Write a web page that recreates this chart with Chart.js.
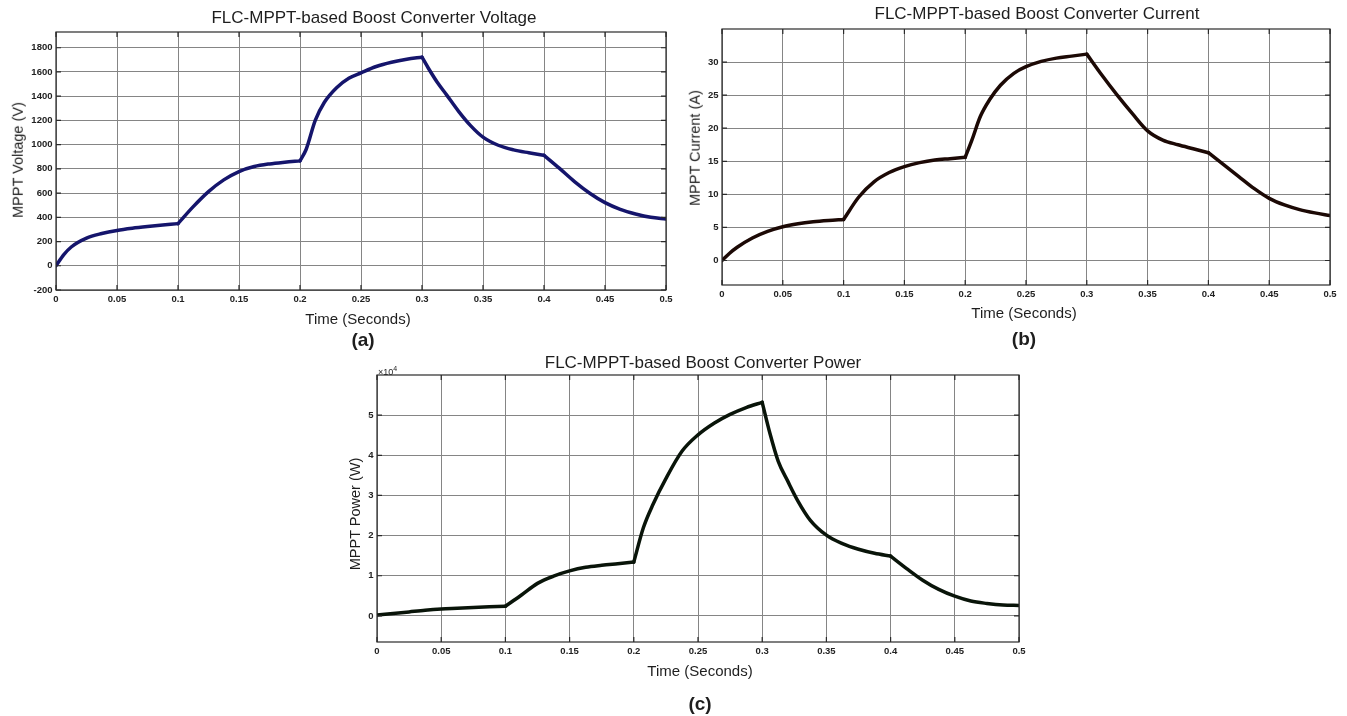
<!DOCTYPE html>
<html lang="en">
<head>
  <meta charset="UTF-8">
  <title>FLC-MPPT-based Boost Converter</title>
  <script src="https://cdn.jsdelivr.net/npm/chart.js"></script>
  <style>
    body { margin: 0; background: #fff; width: 1347px; height: 716px; overflow: hidden; position: relative;
           font-family: "Liberation Sans", Arial, sans-serif; color: #1e1e1e; }
    canvas { position: absolute; }
    .txt { position: absolute; transform: translate(-50%, -50%); white-space: nowrap; line-height: 1; }
    .title { font-size: 17px; }
    .xlab { font-size: 15px; }
    .ylab { font-size: 14.5px; transform: translate(-50%, -50%) rotate(-90deg); }
    .tag { font-size: 19px; font-weight: bold; }
    .mult { position: absolute; font-size: 9px; line-height: 1; }
  </style>
</head>
<body>
  <canvas id="voltChart" width="680" height="320" style="left:0px;top:0px"></canvas>
  <canvas id="currChart" width="667" height="315" style="left:680px;top:0px"></canvas>
  <canvas id="powChart" width="700" height="329" style="left:336px;top:343px"></canvas>

  <div class="txt title" style="left:374px;top:17px">FLC-MPPT-based Boost Converter Voltage</div>
  <div class="txt ylab" style="left:18px;top:160px">MPPT Voltage (V)</div>
  <div class="txt xlab" style="left:358px;top:318px">Time (Seconds)</div>
  <div class="txt tag" style="left:363px;top:339px">(a)</div>

  <div class="txt title" style="left:1037px;top:13px">FLC-MPPT-based Boost Converter Current</div>
  <div class="txt ylab" style="left:695px;top:148px">MPPT Current (A)</div>
  <div class="txt xlab" style="left:1024px;top:312px">Time (Seconds)</div>
  <div class="txt tag" style="left:1024px;top:338px">(b)</div>

  <div class="txt title" style="left:703px;top:362px">FLC-MPPT-based Boost Converter Power</div>
  <div class="txt ylab" style="left:355px;top:514px">MPPT Power (W)</div>
  <div class="txt xlab" style="left:700px;top:670px">Time (Seconds)</div>
  <div class="txt tag" style="left:700px;top:703px">(c)</div>
  <div class="mult" style="left:378px;top:365px">&times;10<sup style="font-size:7px">4</sup></div>

  <script>
    // shared time axis ticks
    const timeTicks = [0, 0.05, 0.1, 0.15, 0.2, 0.25, 0.3, 0.35, 0.4, 0.45, 0.5];
    const timeTickLabels = ['0', '0.05', '0.1', '0.15', '0.2', '0.25', '0.3', '0.35', '0.4', '0.45', '0.5'];
    // irradiance steps happen here, curve has a corner at each one
    const stepTimes = [0, 0.1, 0.2, 0.3, 0.4, 0.5];

    // (a) voltage
    const voltTime = [0, 0.00625, 0.0125, 0.025, 0.0375, 0.05, 0.0625, 0.075, 0.0875, 0.1,
      0.1125, 0.125, 0.1375, 0.15, 0.1625, 0.175, 0.1875, 0.2,
      0.205, 0.2125, 0.22, 0.23, 0.24, 0.25, 0.2625, 0.275, 0.2875, 0.3,
      0.305, 0.3125, 0.32, 0.33, 0.34, 0.35, 0.3625, 0.375, 0.3875, 0.4,
      0.4125, 0.425, 0.4375, 0.45, 0.4625, 0.475, 0.4875, 0.5];
    const voltValues = [0, 90, 155, 228, 266, 292, 310, 324, 336, 348,
      488, 612, 709, 778, 819, 841, 855, 866,
      960, 1200, 1350, 1470, 1548, 1593, 1645, 1680, 1705, 1722,
      1635, 1515, 1413, 1275, 1155, 1062, 995, 957, 933, 912,
      806, 695, 599, 521, 466, 428, 400, 386];
    const voltTicks = [-200, 0, 200, 400, 600, 800, 1000, 1200, 1400, 1600, 1800];
    const voltTickLabels = ['-200', '0', '200', '400', '600', '800', '1000', '1200', '1400', '1600', '1800'];

    // (b) current
    const currTime = [0, 0.00625, 0.0125, 0.025, 0.0375, 0.05, 0.0625, 0.075, 0.0875, 0.1,
      0.1125, 0.125, 0.1375, 0.15, 0.1625, 0.175, 0.1875, 0.2,
      0.2055, 0.2125, 0.22, 0.229, 0.24, 0.25, 0.2625, 0.275, 0.2875, 0.3,
      0.3125, 0.325, 0.3375, 0.35, 0.3625, 0.375, 0.3875, 0.4,
      0.4125, 0.425, 0.4375, 0.45, 0.4625, 0.475, 0.4875, 0.5];
    const currValues = [0, 1.1, 2.0, 3.4, 4.4, 5.1, 5.55, 5.85, 6.05, 6.2,
      9.6, 11.9, 13.3, 14.2, 14.8, 15.2, 15.4, 15.6,
      18.2, 21.8, 24.3, 26.5, 28.3, 29.3, 30.1, 30.6, 30.9, 31.2,
      28.0, 25.0, 22.2, 19.6, 18.2, 17.5, 16.9, 16.3,
      14.5, 12.7, 10.9, 9.4, 8.4, 7.7, 7.2, 6.8];
    const currTicks = [0, 5, 10, 15, 20, 25, 30];
    const currTickLabels = ['0', '5', '10', '15', '20', '25', '30'];

    // (c) power in W
    const powTime = [0, 0.0125, 0.025, 0.0375, 0.05, 0.0625, 0.075, 0.0875, 0.1,
      0.1125, 0.125, 0.1375, 0.15, 0.1625, 0.175, 0.1875, 0.2,
      0.2075, 0.215, 0.225, 0.2375, 0.25, 0.2625, 0.275, 0.2875, 0.3,
      0.306, 0.3125, 0.32, 0.3275, 0.3375, 0.35, 0.3625, 0.375, 0.3875, 0.4,
      0.4125, 0.425, 0.4375, 0.45, 0.4625, 0.475, 0.4875, 0.5];
    const powValues = [200, 600, 1000, 1400, 1700, 1900, 2100, 2250, 2400,
      5200, 8100, 9900, 11200, 12100, 12600, 13000, 13400,
      22000, 27800, 34200, 41000, 45100, 48000, 50200, 51900, 53200,
      45500, 38500, 33500, 28800, 23800, 20100, 18000, 16600, 15600, 14900,
      11800, 8900, 6600, 4900, 3700, 3100, 2700, 2600];
    const powTicks = [0, 10000, 20000, 30000, 40000, 50000];
    const powTickLabels = ['0', '1', '2', '3', '4', '5'];

    // box round the plot with inward ticks, like the original figure
    const framePlugin = {
      id: 'frame',
      afterDatasetsDraw(chart) {
        const { ctx, chartArea: a, scales } = chart;
        ctx.save();
        ctx.strokeStyle = '#2a2a2a';
        ctx.lineWidth = 1.2;
        ctx.strokeRect(a.left, a.top, a.right - a.left, a.bottom - a.top);
        ctx.beginPath();
        scales.x.ticks.forEach(t => {
          const px = scales.x.getPixelForValue(t.value);
          ctx.moveTo(px, a.bottom); ctx.lineTo(px, a.bottom - 5);
          ctx.moveTo(px, a.top); ctx.lineTo(px, a.top + 5);
        });
        scales.y.ticks.forEach(t => {
          const py = scales.y.getPixelForValue(t.value);
          ctx.moveTo(a.left, py); ctx.lineTo(a.left + 5, py);
          ctx.moveTo(a.right, py); ctx.lineTo(a.right - 5, py);
        });
        ctx.stroke();
        ctx.restore();
      }
    };

    // one dataset per interval between steps so the corners stay sharp
    function splitAtSteps(times, values, color) {
      const sets = [];
      for (let k = 0; k < stepTimes.length - 1; k++) {
        const pts = [];
        times.forEach((t, i) => {
          if (t >= stepTimes[k] - 1e-9 && t <= stepTimes[k + 1] + 1e-9) pts.push({ x: t, y: values[i] });
        });
        sets.push({
          data: pts,
          borderColor: color,
          borderWidth: 3.5,
          borderJoinStyle: 'round',
          borderCapStyle: 'round',
          cubicInterpolationMode: 'monotone',
          pointRadius: 0,
          fill: false
        });
      }
      return sets;
    }

    function makeChart(id, times, values, color, yMin, yMax, yTicks, yLabels, padding) {
      const ctx = document.getElementById(id).getContext('2d');
      const tickFont = { family: '"Liberation Sans", Arial, sans-serif', size: 9.5, weight: 'bold' };
      return new Chart(ctx, {
        type: 'line',
        data: { datasets: splitAtSteps(times, values, color) },
        options: {
          responsive: false,
          animation: false,
          devicePixelRatio: 1,
          layout: { padding: padding },
          plugins: { legend: { display: false }, tooltip: { enabled: false }, title: { display: false } },
          scales: {
            x: {
              type: 'linear', min: 0, max: 0.5,
              afterBuildTicks: s => { s.ticks = timeTicks.map(v => ({ value: v })); },
              afterFit: s => { s.height = 20; },
              ticks: { callback: (v, i) => timeTickLabels[i], font: tickFont, color: '#222', padding: 3.5, maxRotation: 0, autoSkip: false },
              grid: { color: '#858585', lineWidth: 1, drawTicks: false },
              border: { display: false }
            },
            y: {
              type: 'linear', min: yMin, max: yMax,
              afterBuildTicks: s => { s.ticks = yTicks.map(v => ({ value: v })); },
              afterFit: s => { s.width = 40; },
              ticks: { callback: (v, i) => yLabels[i], font: tickFont, color: '#222', padding: 3.5, autoSkip: false },
              grid: { color: '#858585', lineWidth: 1, drawTicks: false },
              border: { display: false }
            }
          }
        },
        plugins: [framePlugin]
      });
    }

    makeChart('voltChart', voltTime, voltValues, '#15156c', -200, 1930, voltTicks, voltTickLabels,
      { left: 16, top: 32, right: 14, bottom: 10 });
    makeChart('currChart', currTime, currValues, '#1c0905', -3.7, 35, currTicks, currTickLabels,
      { left: 2, top: 29, right: 17, bottom: 10 });
    makeChart('powChart', powTime, powValues, '#091409', -6500, 60000, powTicks, powTickLabels,
      { left: 1, top: 32, right: 17, bottom: 10 });
  </script>
</body>
</html>
